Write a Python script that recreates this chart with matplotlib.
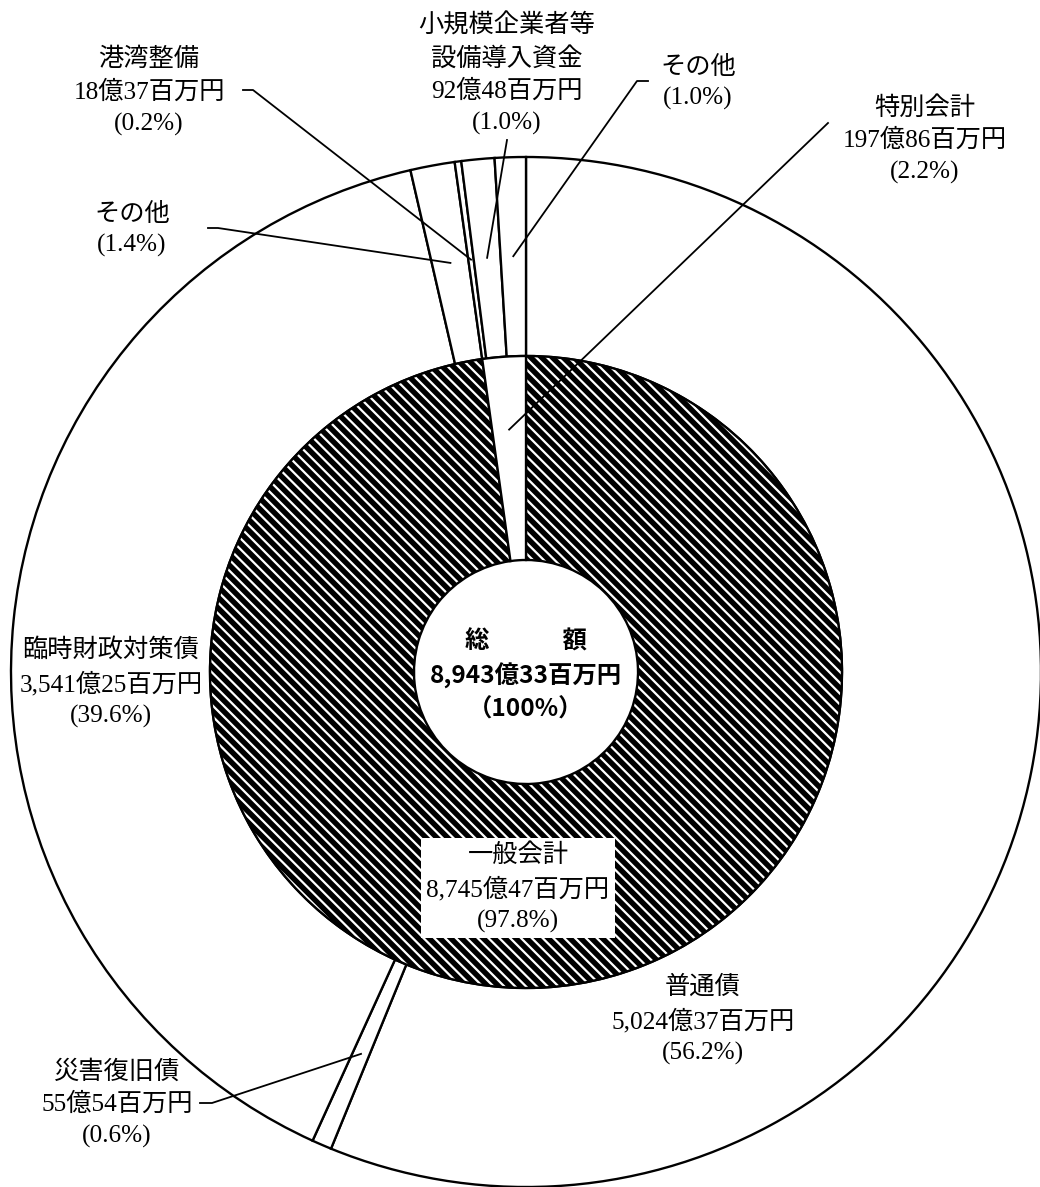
import matplotlib
matplotlib.use("Agg")
import matplotlib.pyplot as plt
import numpy as np

W, H = 1040, 1187
DPI = 130

# 単位: 百万円
inner_labels = ["一般会計", "特別会計"]
inner_values = [874547, 19786]

outer_labels = ["普通債", "災害復旧債", "臨時財政対策債", "その他", "港湾整備",
                "小規模企業者等\n設備導入資金", "その他"]
outer_values = [502437, 5554, 354125, 12431, 1837, 9248, 8701]
outer_show_amount = [True, True, True, False, True, True, False]

total = sum(inner_values)

plt.rcParams["hatch.linewidth"] = 3.0
plt.rcParams["hatch.color"] = "black"

LABEL_FONT = ["Liberation Serif", "Noto Sans CJK JP"]


def amount(v):
    return f"{v // 100:,}億{v % 100:02d}百万円"


def pct(v):
    return f"({v / total * 100:.1f}%)"


def img(x, y):
    # picture coordinates (y from top) -> data coordinates
    return x, H - y


def wedge_point(w, r):
    t = np.deg2rad((w.theta1 + w.theta2) / 2)
    return w.center[0] + r * np.cos(t), w.center[1] + r * np.sin(t)


fig = plt.figure(figsize=(W / DPI, H / DPI), dpi=DPI)
ax = fig.add_axes([0, 0, 1, 1])

cx, cy = img(526, 672)
outer, _ = ax.pie(outer_values, radius=515, center=(cx, cy), startangle=90,
                  counterclock=False, colors=["white"] * len(outer_values),
                  wedgeprops=dict(width=199, edgecolor="black", linewidth=1.3))
inner, _ = ax.pie(inner_values, radius=316, center=(cx, cy), startangle=90,
                  counterclock=False, colors=["white"] * len(inner_values),
                  wedgeprops=dict(width=204, edgecolor="black", linewidth=1.3))
inner[0].set_hatch("\\\\\\\\")

ax.set_xlim(0, W)
ax.set_ylim(0, H)
ax.axis("off")


def label_text(name, v, show_amount=True):
    if show_amount:
        return f"{name}\n{amount(v)}\n{pct(v)}"
    return f"{name}\n{pct(v)}"


txt_kw = dict(ha="center", va="center", fontsize=14, family=LABEL_FONT,
              linespacing=1.5)

# outer ring labels: (index, text position)
outer_pos = {
    0: (703, 1020),
    1: (117, 1104),
    2: (111, 683),
    3: (132, 230),
    4: (149, 92),
    5: (507, 74),
    6: (698, 83),
}
for i, (x, y) in outer_pos.items():
    ax.text(*img(x, y), label_text(outer_labels[i], outer_values[i],
                                   outer_show_amount[i]), **txt_kw)

# leader lines: (index, polyline start points near the text)
leaders = {
    1: [(200, 1103), (212, 1103)],
    3: [(208, 228), (218, 228)],
    4: [(243, 90), (253, 90)],
    5: [(507, 140)],
    6: [(648, 81), (637, 81)],
}
for i, pts in leaders.items():
    ex, ey = wedge_point(outer[i], 416)
    xs = [p[0] for p in pts] + [ex]
    ys = [H - p[1] for p in pts] + [ey]
    ax.plot(xs, ys, color="black", lw=1.0)

# inner ring labels
ax.text(*img(518, 888), label_text(inner_labels[0], inner_values[0]),
        bbox=dict(boxstyle="square,pad=0.2", facecolor="white",
                  edgecolor="none"), **txt_kw)
ax.text(*img(925, 140), label_text(inner_labels[1], inner_values[1]), **txt_kw)
ex, ey = wedge_point(inner[1], 243)
ax.plot([828, ex], [H - 123, ey], color="black", lw=1.0)

# centre
ax.text(*img(526, 676), f"総　　　額\n{amount(total)}\n（100%）",
        ha="center", va="center", fontsize=13.5, fontweight="bold",
        family=["Noto Sans CJK JP", "DejaVu Sans"], linespacing=1.45)

fig.savefig("out.png", dpi=DPI)
